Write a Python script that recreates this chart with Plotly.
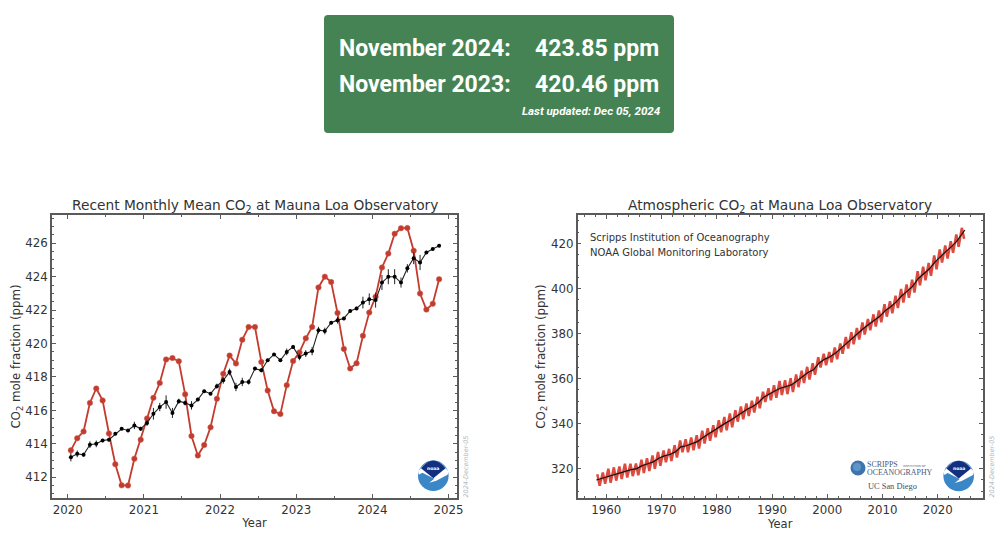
import plotly.graph_objects as go

# ---- left panel data ----
recent_start_year = 2020
monthly_mean = [413.61, 414.34, 414.74, 416.45, 417.31, 416.60, 414.62, 412.78, 411.52, 411.51, 413.11, 414.25,
                415.52, 416.75, 417.64, 419.05, 419.13, 418.94, 416.96, 414.47, 413.30, 413.93, 414.99, 416.69,
                418.19, 419.28, 418.81, 420.23, 420.99, 420.99, 418.90, 417.19, 415.95, 415.78, 417.51, 418.95,
                419.47, 420.31, 420.99, 423.36, 424.00, 423.68, 421.83, 419.68, 418.51, 418.82, 420.46, 421.86,
                422.80, 424.55, 425.38, 426.57, 426.90, 426.91, 425.55, 422.99, 422.03, 422.38, 423.85]
deseason = [413.2, 413.4, 413.35, 413.95, 414.0, 414.2, 414.25, 414.6, 414.9, 414.8, 415.1, 414.9,
            415.25, 415.8, 416.2, 416.5, 415.85, 416.55, 416.45, 416.3, 416.65, 417.15, 417.0, 417.45,
            417.8, 418.3, 417.4, 417.7, 417.7, 418.5, 418.4, 419.0, 419.35, 419.0, 419.5, 419.8,
            419.2, 419.4, 419.55, 420.8, 420.75, 421.25, 421.4, 421.5, 421.95, 422.1, 422.45, 422.65,
            422.6, 423.65, 424.0, 424.0, 423.65, 424.5, 425.1, 424.85, 425.45, 425.65, 425.85]
deseason_err = [0.25, 0.2, 0.12, 0.2, 0.2, 0.1, 0.1, 0.08, 0.08, 0.08, 0.22, 0.12,
                0.18, 0.35, 0.25, 0.4, 0.3, 0.15, 0.15, 0.25, 0.1, 0.08, 0.08, 0.15,
                0.2, 0.2, 0.25, 0.25, 0.15, 0.1, 0.12, 0.08, 0.08, 0.08, 0.2, 0.12,
                0.2, 0.2, 0.25, 0.2, 0.2, 0.1, 0.2, 0.1, 0.1, 0.1, 0.35, 0.35,
                0.45, 0.45, 0.45, 0.45, 0.3, 0.25, 0.35, 0.45, 0.1, 0.08, 0.08]

# ---- right panel data ----
peak_years = list(range(1958, 2025))
season_peaks = [317.5, 318.3, 320.0, 320.6, 321.0, 322.2, 322.2, 322.3, 324.0, 324.6, 325.9, 327.4, 328.1, 328.8,
                330.4, 332.5, 333.1, 333.9, 334.9, 336.9, 338.0, 339.3, 341.5, 343.0, 344.5, 345.9, 347.6, 348.9,
                350.2, 351.9, 354.2, 355.7, 357.0, 358.9, 359.3, 360.2, 361.8, 363.5, 365.2, 366.8, 369.5, 371.0,
                371.8, 373.8, 375.6, 378.5, 380.6, 382.5, 384.9, 386.4, 388.5, 390.2, 393.0, 394.3, 396.8, 399.8,
                401.8, 403.9, 407.7, 409.7, 411.3, 414.7, 417.3, 419.1, 421.0, 424.0, 426.9]
season_troughs = [312.4, 313.3, 313.8, 314.7, 315.4, 316.1, 316.7, 317.1, 318.1, 319.0, 320.0, 321.3, 322.9, 323.4,
                  325.0, 327.3, 327.3, 328.2, 329.0, 331.2, 332.4, 333.9, 336.2, 337.1, 338.4, 340.9, 341.9, 343.4,
                  344.9, 346.8, 349.6, 350.4, 351.5, 352.7, 353.1, 354.0, 356.2, 358.0, 359.6, 361.7, 364.9, 365.9,
                  367.2, 368.6, 371.0, 373.4, 375.2, 377.3, 379.6, 381.4, 383.1, 385.0, 387.5, 389.0, 391.3, 393.7,
                  395.9, 398.2, 401.4, 403.6, 405.6, 408.5, 411.5, 413.3, 415.8, 418.5, 422.0]
trend_x = [1958.2, 1959.5, 1960.5, 1961.5, 1962.5, 1963.5, 1964.5, 1965.5, 1966.5, 1967.5, 1968.5, 1969.5, 1970.5,
           1971.5, 1972.5, 1973.5, 1974.5, 1975.5, 1976.5, 1977.5, 1978.5, 1979.5, 1980.5, 1981.5, 1982.5, 1983.5,
           1984.5, 1985.5, 1986.5, 1987.5, 1988.5, 1989.5, 1990.5, 1991.5, 1992.5, 1993.5, 1994.5, 1995.5, 1996.5,
           1997.5, 1998.5, 1999.5, 2000.5, 2001.5, 2002.5, 2003.5, 2004.5, 2005.5, 2006.5, 2007.5, 2008.5, 2009.5,
           2010.5, 2011.5, 2012.5, 2013.5, 2014.5, 2015.5, 2016.5, 2017.5, 2018.5, 2019.5, 2020.5, 2021.5, 2022.5,
           2023.5, 2024.5, 2024.9]
trend_y = [315.0, 315.98, 316.91, 317.64, 318.45, 318.99, 319.62, 320.04, 321.37, 322.18, 323.05, 324.62, 325.68,
           326.32, 327.46, 329.68, 330.19, 331.13, 332.03, 333.84, 335.41, 336.84, 338.76, 340.12, 341.48, 343.15,
           344.87, 346.35, 347.61, 349.31, 351.69, 353.20, 354.45, 355.70, 356.54, 357.21, 358.96, 360.97, 362.74,
           363.88, 366.84, 368.54, 369.71, 371.32, 373.45, 375.98, 377.70, 379.98, 382.09, 384.02, 385.83, 387.64,
           390.10, 391.85, 394.06, 396.74, 398.81, 401.01, 404.41, 406.76, 408.72, 411.66, 414.24, 416.45, 418.56,
           421.08, 424.5, 425.85]

left_xticks = [2020, 2021, 2022, 2023, 2024, 2025]
left_yticks = [412, 414, 416, 418, 420, 422, 424, 426]
right_xticks = [1960, 1970, 1980, 1990, 2000, 2010, 2020]
right_yticks = [320, 340, 360, 380, 400, 420]

W, H = 1000, 541
DARK = "#333333"
SPINE = "#5a5a5a"
RED_L = "#c23b2e"
RED_R = "#dc4b40"

recent_x = [recent_start_year + (i + 0.5) / 12 for i in range(len(monthly_mean))]

season_x, season_y = [], []
for yr, p, t in zip(peak_years, season_peaks, season_troughs):
    season_x += [yr + 0.37, yr + 0.79]
    season_y += [p, t]

fig = go.Figure()
fig.add_trace(go.Scatter(x=recent_x, y=monthly_mean, mode="lines+markers", xaxis="x", yaxis="y",
                         line=dict(color=RED_L, width=1.8), marker=dict(color=RED_L, size=5.5,
                         line=dict(color="#d0604f", width=0.5)), showlegend=False))
fig.add_trace(go.Scatter(x=recent_x, y=deseason, mode="lines+markers", xaxis="x", yaxis="y",
                         error_y=dict(type="data", array=deseason_err, width=0, thickness=1, color="#222222"),
                         line=dict(color="#222222", width=1.1), marker=dict(color="black", size=4),
                         showlegend=False))
fig.add_trace(go.Scatter(x=season_x, y=season_y, mode="lines", xaxis="x2", yaxis="y2",
                         line=dict(color=RED_R, width=2.5), showlegend=False))
fig.add_trace(go.Scatter(x=trend_x, y=trend_y, mode="lines", xaxis="x2", yaxis="y2",
                         line=dict(color="#111111", width=1.2), showlegend=False))


def xax(domain, rng, ticks, minor, anchor, title_text):
    return dict(domain=domain, range=rng, tickmode="array", tickvals=ticks, ticktext=[str(t) for t in ticks],
                ticks="inside", ticklen=4, tickwidth=1, tickcolor=SPINE, mirror="ticks", showline=True,
                linecolor=SPINE, linewidth=1.5, showgrid=False, zeroline=False, anchor=anchor,
                minor=dict(ticks="inside", ticklen=2, tickwidth=1, tickcolor=SPINE, dtick=minor, tick0=0,
                           showgrid=False),
                tickfont=dict(family="DejaVu Sans", size=11.8, color=DARK),
                title=dict(text=title_text, font=dict(family="DejaVu Sans", size=11.5, color=DARK), standoff=3))


def yax(domain, rng, ticks, minor, anchor, title_text, standoff):
    return dict(domain=domain, range=rng, tickmode="array", tickvals=ticks, ticktext=[str(t) for t in ticks],
                ticks="inside", ticklen=4, tickwidth=1, tickcolor=SPINE, mirror="ticks", showline=True,
                linecolor=SPINE, linewidth=1.5, showgrid=False, zeroline=False, anchor=anchor,
                minor=dict(ticks="inside", ticklen=2, tickwidth=1, tickcolor=SPINE, dtick=minor, tick0=0,
                           showgrid=False),
                tickfont=dict(family="DejaVu Sans", size=11.8, color=DARK),
                title=dict(text=title_text, font=dict(family="DejaVu Sans", size=11.8, color=DARK), standoff=standoff))


def px(x):
    return x / W


def py(y):
    return 1 - y / H


def path(cmds):
    """cmds: list of tuples (letter, x, y) in page pixels -> SVG path in paper units"""
    out = []
    for c in cmds:
        if c[0] == "Z":
            out.append("Z")
        elif c[0] == "Q":
            out.append(f"Q {px(c[1]):.5f} {py(c[2]):.5f} {px(c[3]):.5f} {py(c[4]):.5f}")
        else:
            out.append(f"{c[0]} {px(c[1]):.5f} {py(c[2]):.5f}")
    return " ".join(out)


def circle(cx, cy, r, color):
    return dict(type="circle", xref="paper", yref="paper", x0=px(cx - r), x1=px(cx + r), y0=py(cy + r), y1=py(cy - r),
                fillcolor=color, line=dict(width=0), layer="above")


def noaa_logo(cx, cy):
    r = 15.3
    return [
        circle(cx, cy, r, "#3b86c6"),
        dict(type="path", xref="paper", yref="paper", layer="above", fillcolor="white", line=dict(width=0),
             path=path([("M", cx - r, cy - 4), ("Q", cx, cy - r * 1.7, cx + r, cy - 4), ("L", cx + r - 1, cy - 1),
                        ("L", cx + 3, cy + 5), ("L", cx - 4, cy + 7), ("L", cx + 1, cy + 3), ("L", cx - 11, cy - 3),
                        ("L", cx - r + 1, cy - 1), ("Z",)])),
        dict(type="path", xref="paper", yref="paper", layer="above", fillcolor="#12307f", line=dict(width=0),
             path=path([("M", cx - 12.3, cy - 7.5), ("Q", cx, cy - 23, cx + 12.3, cy - 7.5), ("L", cx, cy + 2.5), ("Z",)])),
    ]


shapes = [
    dict(type="path", xref="paper", yref="paper", fillcolor="#468354", line=dict(width=0), layer="below",
         path=path([("M", 328, 15), ("L", 670, 15), ("Q", 674, 15, 674, 19), ("L", 674, 129), ("Q", 674, 133, 670, 133),
                    ("L", 328, 133), ("Q", 324, 133, 324, 129), ("L", 324, 19), ("Q", 324, 15, 328, 15), ("Z",)])),
    circle(858, 468, 7.5, "#3f73ad"),
    circle(857, 467, 4, "#5e95c8"),
] + noaa_logo(433.3, 475.7) + noaa_logo(958.7, 476)


def note(x, y, text, size, color="white", family="Roboto", xanchor="left", **kw):
    return dict(x=px(x), y=py(y), xref="paper", yref="paper", text=text, showarrow=False, xanchor=xanchor,
                yanchor="middle", font=dict(family=family, size=size, color=color), align=xanchor, **kw)


annotations = [
    note(337, 48, "<b>November 2024:</b>", 23),
    note(661, 48, "<b>423.85 ppm</b>", 23, xanchor="right"),
    note(337, 84.5, "<b>November 2023:</b>", 23),
    note(661, 84.5, "<b>420.46 ppm</b>", 23, xanchor="right"),
    note(663, 111, "<b><i>Last updated: Dec 05, 2024</i></b>", 11.6, xanchor="right"),
    note(254.5, 206, "Recent Monthly Mean CO<sub>2</sub> at Mauna Loa Observatory", 13.75, DARK, "DejaVu Sans", "center"),
    note(780, 206, "Atmospheric CO<sub>2</sub> at Mauna Loa Observatory", 13.75, DARK, "DejaVu Sans", "center"),
    note(588, 237, "Scripps Institution of Oceanography", 10, DARK, "DejaVu Sans"),
    note(588, 252, "NOAA Global Monitoring Laboratory", 10, DARK, "DejaVu Sans"),
    note(465, 466.5, "<i>2024-December-05</i>", 6.4, "#b5b5b5", "DejaVu Sans", "center", textangle=-90),
    note(991, 466.5, "<i>2024-December-05</i>", 6.4, "#b5b5b5", "DejaVu Sans", "center", textangle=-90),
    note(865, 464.5, "SCRIPPS", 7.9, "#4a5a78", "Liberation Serif"),
    note(901, 466, "INSTITUTION OF", 2.8, "#4a5a78", "DejaVu Sans"),
    note(865, 472.5, "OCEANOGRAPHY", 7.9, "#4a5a78", "Liberation Serif"),
    note(866, 486, "UC San Diego", 8.4, "#445060", "Liberation Serif"),
    note(433.3, 468, "<b>noaa</b>", 4.5, "white", "DejaVu Sans", "center"),
    note(958.7, 468.5, "<b>noaa</b>", 4.5, "white", "DejaVu Sans", "center"),
]

fig.update_layout(
    width=W, height=H, margin=dict(l=0, r=0, t=0, b=0, autoexpand=False), paper_bgcolor="white",
    plot_bgcolor="white", showlegend=False,
    xaxis=xax([52 / W, 457 / W], [2019.794, 2025.11], left_xticks, 0.5, "y", "Year"),
    yaxis=yax([1 - 498 / H, 1 - 215 / H], [410.76, 427.69], left_yticks, 0.5, "x", "CO<sub>2</sub> mole fraction (ppm)", 2),
    xaxis2=xax([577.7 / W, 982.7 / W], [1954.82, 2028.15], right_xticks, 2, "y2", "Year"),
    yaxis2=yax([1 - 498 / H, 1 - 215 / H], [307, 432.6], right_yticks, 5, "x2", "CO<sub>2</sub> mole fraction (ppm)", 3),
    shapes=shapes, annotations=annotations,
)

fig.write_html("out.html", config={"responsive": False, "displayModeBar": False},
               post_script="document.body.style.margin='0';document.body.style.overflow='hidden';")
